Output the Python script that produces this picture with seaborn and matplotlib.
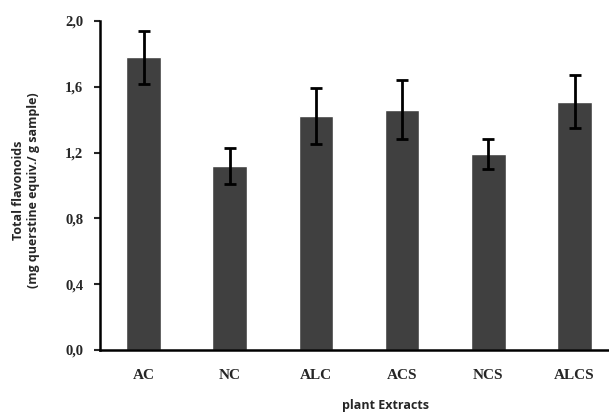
import matplotlib
matplotlib.use("Agg")
import matplotlib.pyplot as plt
import seaborn as sns
import numpy as np

categories = ["AC", "NC", "ALC", "ACS", "NCS", "ALCS"]
values = [1.78, 1.12, 1.42, 1.46, 1.19, 1.51]
errors = [0.16, 0.11, 0.17, 0.18, 0.09, 0.16]
yticks = [0.0, 0.4, 0.8, 1.2, 1.6, 2.0]
ytick_labels = ["0,0", "0,4", "0,8", "1,2", "1,6", "2,0"]

sns.set_style("white")
fig = plt.figure(figsize=(6.09, 4.19), dpi=100)
ax = fig.add_axes([100/609, 1-350/419, 509/609, 329/419])

sns.barplot(x=categories, y=values, color="#404040", saturation=1, width=0.4, ax=ax)
ax.errorbar(x=np.arange(len(categories)), y=values, yerr=errors, fmt="none",
            ecolor="black", elinewidth=2, capsize=4, capthick=2)

ax.set_xlim(-0.505, 5.4)
ax.set_ylim(0, 2.0)
ax.set_yticks(yticks)
ax.set_yticklabels(ytick_labels, fontfamily="Liberation Serif", fontweight="bold", fontsize=10.5)
for lab in ax.get_xticklabels():
    lab.set_fontfamily("Liberation Serif")
    lab.set_fontweight("bold")
    lab.set_fontsize(11)
ax.tick_params(axis="x", length=0, pad=14)
ax.tick_params(axis="y", length=4, width=1.5, direction="out", pad=8, left=True)

for s in ["top", "right"]:
    ax.spines[s].set_visible(False)
for s in ["left", "bottom"]:
    ax.spines[s].set_linewidth(1.8)
    ax.spines[s].set_color("black")

ax.set_xlabel("plant Extracts", fontfamily="Open Sans", fontweight="bold", fontsize=9)
ax.xaxis.set_label_coords((386-100)/509, -(399-350)/329)
ax.set_ylabel("Total flavonoids\n(mg querstine equiv./ g sample)", fontfamily="Open Sans",
              fontweight="bold", fontsize=9, linespacing=1.2)
ax.yaxis.set_label_coords(-(100-40)/509, (350-190)/329)

fig.savefig("out.png", dpi=100)
